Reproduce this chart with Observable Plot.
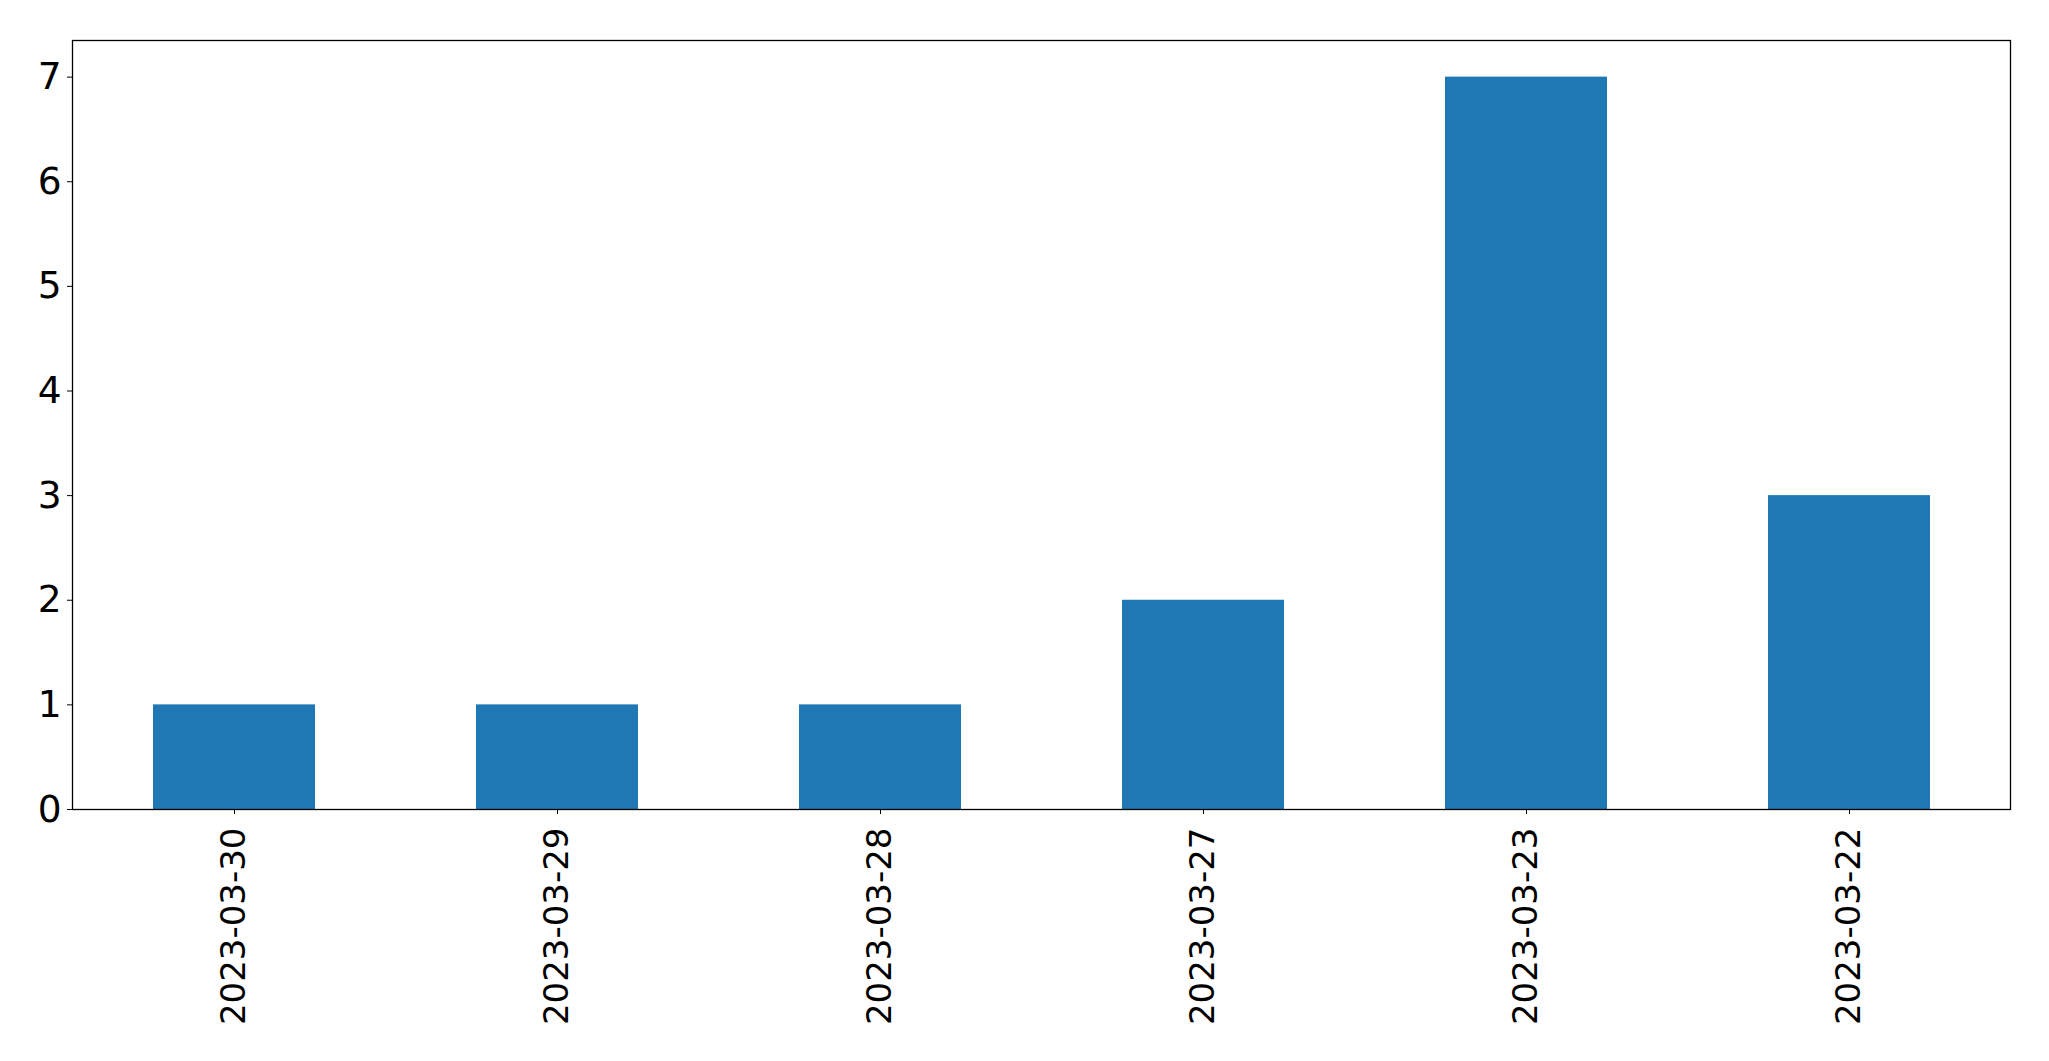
<!DOCTYPE html>
<html>
<head>
<meta charset="utf-8">
<script src="https://cdn.jsdelivr.net/npm/d3@7"></script>
<script src="https://cdn.jsdelivr.net/npm/@observablehq/plot@0.6"></script>
<style>
  html, body { margin: 0; padding: 0; background: #fff; }
  svg { display: block; }
</style>
</head>
<body>
<div id="chart"></div>
<script>
const dates = ["2023-03-30", "2023-03-29", "2023-03-28", "2023-03-27", "2023-03-23", "2023-03-22"];
const counts = [1, 1, 1, 2, 7, 3];
const yTicks = [0, 1, 2, 3, 4, 5, 6, 7];

const data = dates.map((d, i) => ({date: d, count: counts[i]}));

const chart = Plot.plot({
  width: 2049,
  height: 1061,
  marginLeft: 72,
  marginRight: 39,
  marginTop: 40,
  marginBottom: 252,
  style: {fontFamily: "DejaVu Sans", background: "#fff", color: "#000"},
  x: {domain: dates, paddingInner: 0.5, paddingOuter: 0.25, label: null},
  y: {domain: [0, 7.35], label: null},
  marks: [
    Plot.barY(data, {x: "date", y: "count", fill: "#1f77b4"}),
    Plot.axisY({ticks: yTicks, tickSize: 5, tickPadding: 6, fontSize: 37.5, label: null, tickFormat: d => String(d)}),
    Plot.axisX({tickSize: 5, tickPadding: 13, tickRotate: -90, fontSize: 34, label: null}),
    Plot.frame({stroke: "#000", strokeWidth: 1.3})
  ]
});
document.getElementById("chart").appendChild(chart);
</script>
</body>
</html>
